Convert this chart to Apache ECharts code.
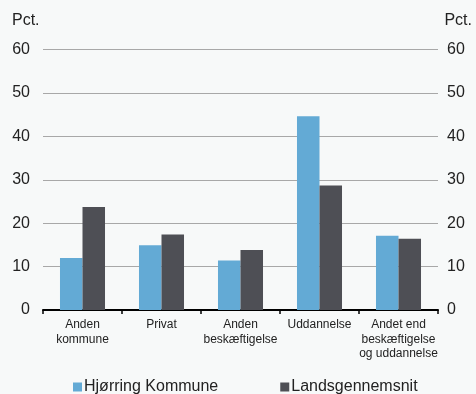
<!DOCTYPE html>
<html><head><meta charset="utf-8">
<script src="https://cdn.jsdelivr.net/npm/echarts@6/dist/echarts.min.js"></script>
<style>html,body{margin:0;padding:0;background:#f7f9f9}#c{width:476px;height:394px}</style>
</head><body><div id="c"></div>
<script>
var categories = ['Anden\nkommune', 'Privat', 'Anden\nbeskæftigelse', 'Uddannelse', 'Andet end\nbeskæftigelse\nog uddannelse'];
var hjoerring = [12.0, 14.9, 11.4, 44.6, 17.1];
var lands = [23.7, 17.4, 13.8, 28.7, 16.4];
var seriesNames = ['Hjørring Kommune', 'Landsgennemsnit'];
var F = 'Liberation Sans, Arial, sans-serif';
var chart = echarts.init(document.getElementById('c'));
chart.setOption({
  backgroundColor: '#f7f9f9',
  animation: false,
  textStyle: {fontFamily: F},
  grid: {left: 43, right: 38, top: 49.5, bottom: 84},
  legend: {
    left: 73, bottom: -1, padding: 0, itemWidth: 9, itemHeight: 9, itemGap: 62,
    icon: 'rect',
    textStyle: {fontSize: 16, color: '#222', fontFamily: F, padding: [0, 0, 0, -3]},
    data: seriesNames
  },
  graphic: [
    {type: 'text', left: 12, top: 13, style: {text: 'Pct.', font: '16px ' + F, fill: '#222'}},
    {type: 'text', right: 4, top: 13, style: {text: 'Pct.', font: '16px ' + F, fill: '#222'}}
  ],
  xAxis: {
    type: 'category', data: categories,
    axisLine: {lineStyle: {color: '#000', width: 2}},
    axisTick: {show: true, length: 4, lineStyle: {color: '#000', width: 1.5}},
    axisLabel: {fontSize: 12, color: '#222', lineHeight: 14.3, margin: 8, fontFamily: F, interval: 0}
  },
  yAxis: [
    {type: 'value', min: 0, max: 60, interval: 10, position: 'left',
     axisLabel: {fontSize: 16, color: '#222', margin: 13, fontFamily: F},
     splitLine: {lineStyle: {color: '#a8a8a8', width: 1}},
     axisLine: {show: false}, axisTick: {show: false}},
    {type: 'value', min: 0, max: 60, interval: 10, position: 'right',
     axisLabel: {fontSize: 16, color: '#222', margin: 9, fontFamily: F},
     splitLine: {show: false},
     axisLine: {show: false}, axisTick: {show: false}}
  ],
  series: [
    {name: seriesNames[0], type: 'bar', data: hjoerring, barGap: '0%', barCategoryGap: '43%',
     itemStyle: {color: '#63aad5'}},
    {name: seriesNames[1], type: 'bar', data: lands, barGap: '0%', barCategoryGap: '43%',
     itemStyle: {color: '#4e4f55'}}
  ]
});
</script></body></html>
